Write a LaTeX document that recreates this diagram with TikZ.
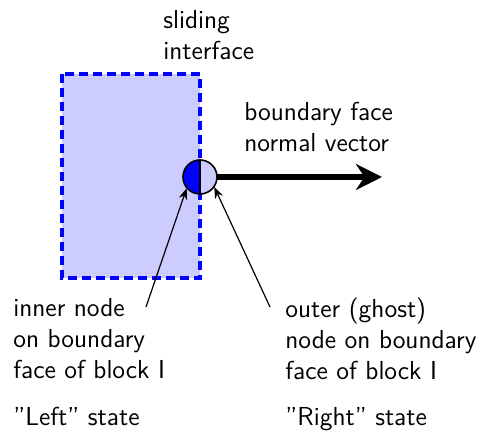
\documentclass[tikz,border=0pt]{standalone}
\usepackage{tikz}
\usetikzlibrary{arrows.meta,positioning,calc}

\begin{document}
\begin{tikzpicture}[>=Stealth, x=0.5pt, y=-0.5pt]
        \tikzset{label text/.style={align=left, inner sep=0pt, anchor=north west, font=\sffamily\fontsize{13}{15.5}\selectfont}}
        \useasboundingbox (0,0) rectangle (482,437);
        % block I
        \draw[blue, fill=blue!20, line width=1.6pt, dash pattern=on 4.5pt off 2.5pt] (62,74) rectangle (200,278);
        % boundary node, split in two halves
        \coordinate (face) at (200,177);
        \fill[blue] (face) ++(0,17) arc[start angle=90, end angle=270, radius=17] -- cycle;
        \fill[blue!20] (face) ++(0,17) arc[start angle=90, end angle=-90, radius=17] -- cycle;
        \draw[thick] (face) circle[radius=17];
        \draw[thick] ($(face)+(0,-17)$) -- ($(face)+(0,17)$);
        \node[circle, minimum size=17pt, inner sep=0pt] (bnode) at (face) {};
        \coordinate (tip) at (382,177);
        \draw[line width=3pt, -{Stealth[length=13pt, width=13pt]}] (bnode.east) -- (tip);
        % labels
        \node[label text] (slide) at (163,10) {sliding\\interface};
        \node[label text] (normal) at (244,102) {boundary face\\normal vector};
        \node[label text] (inner) at (13,298) {inner node\\on boundary\\face of block I};
        \node[label text] (outer) at (285,298) {outer (ghost)\\node on boundary\\face of block I};
        \node[label text] (lstate) at (13,407) {"Left" state};
        \node[label text] (rstate) at (285,407) {"Right" state};
        \coordinate (a1) at (146,307);
        \coordinate (a2) at (270,307);
        \draw[->, semithick] (a1) -- (bnode.-140);
        \draw[->, semithick] (a2) -- (bnode.-35);
    \end{tikzpicture}
\end{document}
